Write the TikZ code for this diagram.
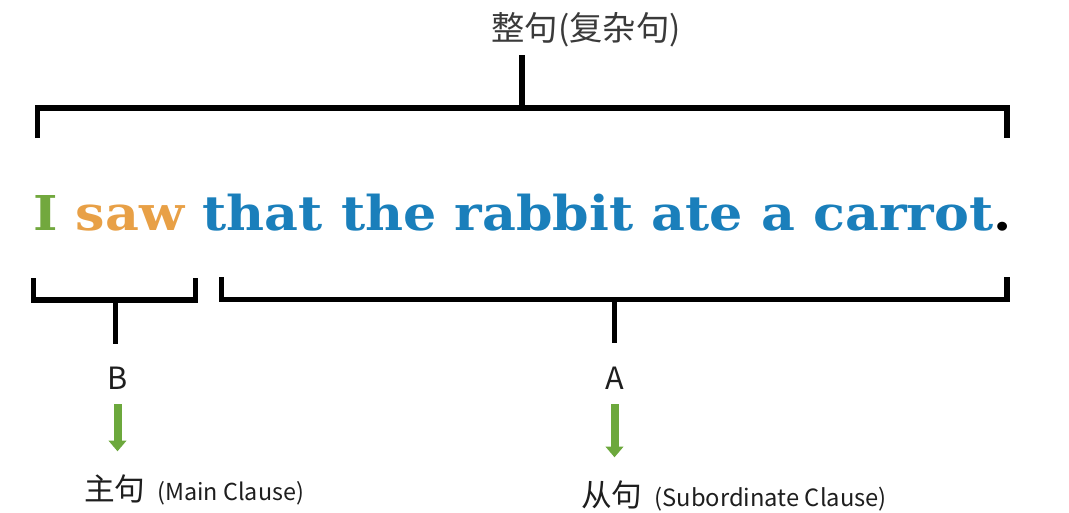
\documentclass[tikz,border=0pt]{standalone}
\usepackage{fontspec}
\usepackage{graphicx}
\usepackage{tikz}
\usetikzlibrary{arrows.meta, positioning}
\newfontfamily\cjk{Noto Sans CJK SC}
\newfontfamily\sentfont{DejaVu Serif}
\definecolor{subjgreen}{HTML}{72A83E}
\definecolor{verborange}{HTML}{E8A046}
\definecolor{clauseblue}{HTML}{1A7FBB}
\definecolor{arrowgreen}{HTML}{6CA83C}
\definecolor{labelgray}{HTML}{3A3A3A}
\definecolor{inkgray}{HTML}{1E1E1E}

\begin{document}
\begin{tikzpicture}[x=0.75pt, y=-0.75pt,
    bracket/.style={line width=4pt, line join=miter},
    pointer/.style={draw=arrowgreen, line width=6pt,
        -{Triangle[width=13pt, length=8pt]}},
    tag/.style={inner sep=0pt, text=inkgray,
        font=\cjk\fontsize{23pt}{28pt}\selectfont}]
    \useasboundingbox (0,0) rectangle (1069,512);

    % Whole sentence label
    \node[inner sep=0pt, anchor=base, text=labelgray,
        font=\cjk\fontsize{25pt}{30pt}\selectfont] (whole) at (586,40) {整句(复杂句)};

    % The sentence
    \node[inner sep=0pt, anchor=base west,
        font=\sentfont\bfseries\fontsize{36pt}{44pt}\selectfont] (sent) at (33,230)
        {\scalebox{1.09}[1]{\textcolor{subjgreen}{I} \textcolor{verborange}{saw} \textcolor{clauseblue}{that the rabbit ate a carrot}.}};

    % Top bracket
    \draw[bracket] (37.5,138) -- (37.5,108) -- (1007,108) -- (1007,138);
    \draw[bracket] (522,108) -- (522,55);

    % Bracket under the main clause
    \draw[bracket] (33.5,278) -- (33.5,300) -- (195.5,300) -- (195.5,278);
    \draw[bracket] (115.5,300) -- (115.5,344);

    % Bracket under the subordinate clause
    \draw[bracket] (221.5,277) -- (221.5,299.5) -- (1007,299.5) -- (1007,277);
    \draw[bracket] (614.5,299.5) -- (614.5,343);

    % Letters
    \node[tag] (lblB) at (117.5,378) {B};
    \node[tag] (lblA) at (614.5,378) {A};

    % Clause names
    \node[tag, anchor=base west] (mainc) at (84,500)
        {主句\hspace{9pt}{\fontsize{17.5pt}{21pt}\selectfont (Main Clause)}};
    \node[tag, anchor=base west] (subc) at (581,506)
        {从句\hspace{9pt}{\fontsize{17.8pt}{21pt}\selectfont (Subordinate Clause)}};

    % Arrows
    \draw[pointer, shorten <=11pt, shorten >=17pt] (lblB.south) -- (lblB.south |- mainc.north);
    \draw[pointer, shorten <=11pt, shorten >=17pt] (lblA.south) -- (lblA.south |- subc.north);
\end{tikzpicture}
\end{document}
